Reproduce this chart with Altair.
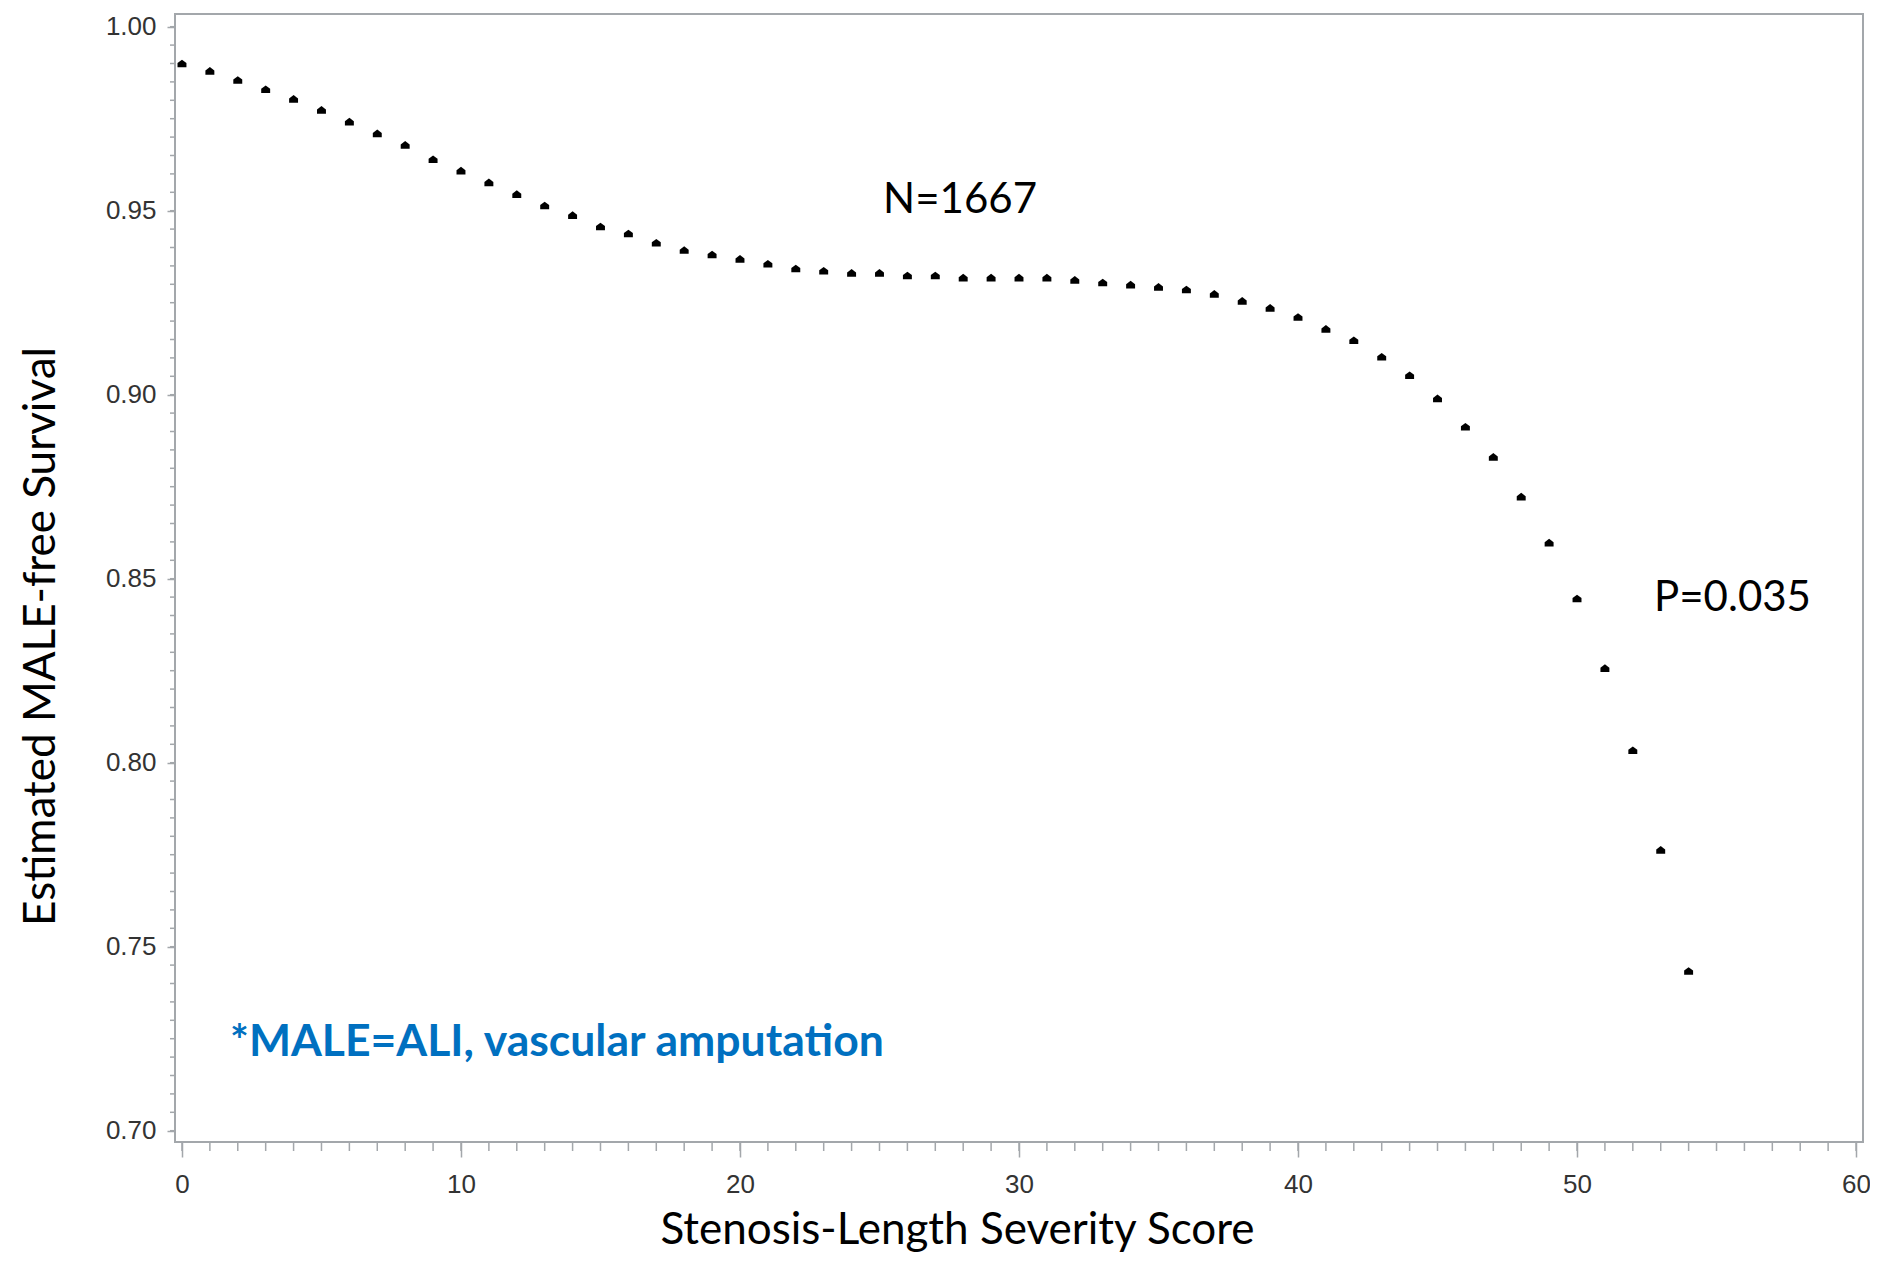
import altair as alt
import pandas as pd

# ---- data ----
score = list(range(55))
survival = [
    0.9900, 0.9880, 0.9855, 0.9830, 0.9804, 0.9774, 0.9742, 0.9710, 0.9679, 0.9640,
    0.9609, 0.9577, 0.9545, 0.9514, 0.9488, 0.9457, 0.9438, 0.9413, 0.9393, 0.9381,
    0.9369, 0.9356, 0.9343, 0.9337, 0.9331, 0.9331, 0.9324, 0.9324, 0.9318, 0.9318,
    0.9318, 0.9318, 0.9312, 0.9305, 0.9299, 0.9293, 0.9286, 0.9274, 0.9255, 0.9236,
    0.9211, 0.9179, 0.9148, 0.9103, 0.9053, 0.8990, 0.8913, 0.8831, 0.8723, 0.8598,
    0.8446, 0.8257, 0.8034, 0.7763, 0.7434,
]

x_major = [0, 10, 20, 30, 40, 50, 60]
y_major = [0.70, 0.75, 0.80, 0.85, 0.90, 0.95, 1.00]
x_minor = list(range(0, 61))
y_minor = [round(0.70 + 0.005 * k, 3) for k in range(61)]

ann_text = ["N=1667", "P=0.035"]
ann_x = [25.13, 52.76]
ann_y = [0.9495, 0.8412]

note_text = ["*MALE=ALI, vascular amputation"]
note_x = [1.72]
note_y = [0.7202]

x_title = "Stenosis-Length Severity Score"
y_title = "Estimated MALE-free Survival"

# ---- styling ----
W, H = 1688, 1128
GRAY = "#a3a7ab"
LABEL = "#333333"
TITLE_FONT = "Lato"
TFS = 42
AXIS_TFS = 44
MARKER = "M0,-0.85 L1,-0.1 L1,0.85 L-1,0.85 L-1,-0.1 Z"

xs = alt.Scale(domain=[-0.25, 60.25], nice=False, zero=False)
ys = alt.Scale(domain=[0.69693, 1.00345], nice=False, zero=False)

df = pd.DataFrame({"x": score, "y": survival})

points = alt.Chart(df).mark_point(
    shape=MARKER, size=80, filled=True, color="black", opacity=1, strokeWidth=0
).encode(
    x=alt.X("x:Q", scale=xs, axis=alt.Axis(
        orient="bottom",
        values=x_major, format="d", grid=False, domain=False,
        tickSize=15, tickWidth=1.5, tickColor=GRAY,
        labelFont="Liberation Sans", labelFontSize=26, labelColor=LABEL,
        labelPadding=14, labelFlush=False, labelOverlap=False,
        title=x_title, titleFont=TITLE_FONT, titleFontSize=AXIS_TFS,
        titleFontWeight="normal", titleColor="black",
        titleX=782, titleY=101, titleAlign="center", titleBaseline="alphabetic",
    )),
    y=alt.Y("y:Q", scale=ys, axis=alt.Axis(
        orient="left",
        values=y_major, format=".2f", grid=False, domain=False,
        tickSize=8, tickWidth=1.5, tickColor=GRAY,
        labelFont="Liberation Sans", labelFontSize=26, labelColor=LABEL,
        labelPadding=11, labelFlush=False, labelOverlap=False,
        title=y_title, titleFont=TITLE_FONT, titleFontSize=AXIS_TFS,
        titleFontWeight="normal", titleColor="black",
        titleX=-121, titleY=622, titleAngle=270, titleAlign="center",
        titleBaseline="alphabetic",
    )),
)

y_minor_ticks = alt.Chart(pd.DataFrame({"y": y_minor})).mark_rule(
    color=GRAY, strokeWidth=1.5
).encode(
    y=alt.Y("y:Q", scale=ys, axis=None),
    x=alt.value(-5), x2=alt.value(0),
)

x_minor_ticks = alt.Chart(pd.DataFrame({"x": x_minor})).mark_rule(
    color=GRAY, strokeWidth=1.5
).encode(
    x=alt.X("x:Q", scale=xs, axis=None),
    y=alt.value(H), y2=alt.value(H + 9),
)

ann = alt.Chart(pd.DataFrame({"x": ann_x, "y": ann_y, "t": ann_text})).mark_text(
    font=TITLE_FONT, fontSize=TFS, align="left", baseline="alphabetic", color="black"
).encode(
    x=alt.X("x:Q", scale=xs, axis=None),
    y=alt.Y("y:Q", scale=ys, axis=None),
    text="t:N",
)

note = alt.Chart(pd.DataFrame({"x": note_x, "y": note_y, "t": note_text})).mark_text(
    font=TITLE_FONT, fontSize=44.5, fontWeight="bold", align="left",
    baseline="alphabetic", color="#0070C0"
).encode(
    x=alt.X("x:Q", scale=xs, axis=None),
    y=alt.Y("y:Q", scale=ys, axis=None),
    text="t:N",
)

chart = alt.layer(points, y_minor_ticks, x_minor_ticks, ann, note).resolve_axis(
    x="independent", y="independent"
).properties(
    width=W, height=H,
    padding={"left": 167, "top": 6, "right": 7, "bottom": 112},
    autosize=alt.AutoSizeParams(type="none"),
    background="white",
).configure_view(stroke=GRAY, strokeWidth=2)

chart.save("out.html", embed_options={"renderer": "svg", "actions": False})
